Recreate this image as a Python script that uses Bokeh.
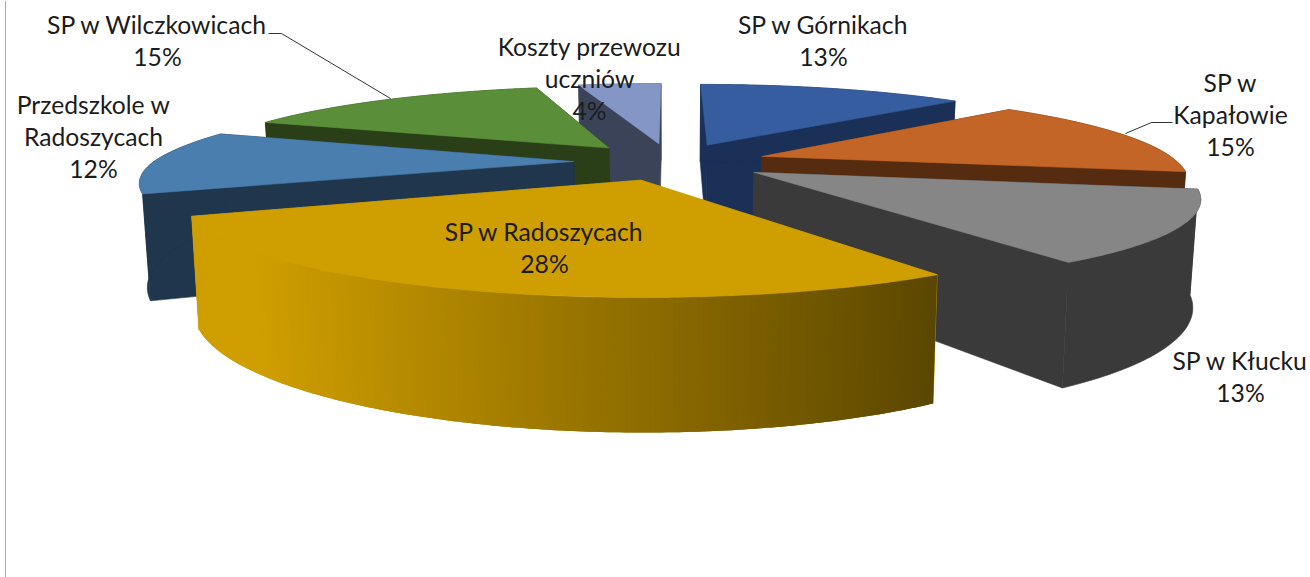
import math
from bokeh.plotting import figure
from bokeh.models import Range1d
from bokeh.core.properties import value
from bokeh.embed import file_html
from bokeh.resources import INLINE

# ---- data ----
categories = ["SP w Górnikach", "SP w Kapałowie", "SP w Kłucku", "SP w Radoszycach",
              "Przedszkole w Radoszycach", "SP w Wilczkowicach", "Koszty przewozu uczniów"]
shares = [13, 15, 13, 28, 12, 15, 4]
label_lines = [["SP w Górnikach"], ["SP w", "Kapałowie"], ["SP w Kłucku"], ["SP w Radoszycach"],
               ["Przedszkole w", "Radoszycach"], ["SP w Wilczkowicach"], ["Koszty przewozu", "uczniów"]]

# ---- styles / layout ----
top_colors = ["#355D9F", "#C36527", "#868686", "#CF9E00", "#4A7EAE", "#5B8E39", "#8496C6"]
side_colors = ["#1B3056", "#562C11", "#3A3A3A", "#CF9E00", "#20364C", "#2A3F18", "#3A4358"]
label_pos = [(823, 24), (1230, 82), (1240, 360), (544, 231), (93, 104), (157, 24), (589, 46)]
paint_order = [6, 0, 5, 4, 1, 2, 3]

W, H = 1310, 577
CX, CY = 670, 161          # centre of the pie top on the page
AX, BY = 420, 81           # horizontal / vertical projection scale
PERSP, SKEW = 0.225, 8     # perspective strength, near-side skew
YAW = 0.009                # slight narrowing of the right-hand side
EXPLODE = 0.23             # explosion of every slice
DEPTH, SHRINK = 98, 0.015  # pie thickness on the page
FS = "24.7px"
FONT = value("Lato")
TEXT = "#1c1c1c"


def project(u, v, bottom=False):
    w = 1 - PERSP * v
    x = (AX * u * (1 - YAW * max(u, 0)) + SKEW * max(v, 0)) / w
    y = BY * v / w
    if bottom:
        x *= 1 - SHRINK
        y += DEPTH / w
    return CX + x, CY + y


p = figure(width=W, height=H, x_range=Range1d(0, W), y_range=Range1d(H, 0),
           output_backend="svg", toolbar_location=None, min_border=0)
p.axis.visible = False
p.grid.visible = False
p.outline_line_color = None
p.background_fill_color = "white"
p.border_fill_color = "white"

# chart-area border on the left
p.line([5, 5], [0, H], line_color="#ababab", line_width=1)

total = sum(shares)
starts, acc = [], 0
for s in shares:
    starts.append(acc / total * 2 * math.pi)
    acc += s


def slice_geometry(i):
    a0 = starts[i]
    a1 = a0 + shares[i] / total * 2 * math.pi
    mid = (a0 + a1) / 2
    ou, ov = EXPLODE * math.sin(mid), -EXPLODE * math.cos(mid)
    n = max(8, int(shares[i] * 6))
    arc = [(ou + math.sin(a0 + (a1 - a0) * k / n), ov - math.cos(a0 + (a1 - a0) * k / n))
           for k in range(n + 1)]
    return (ou, ov), arc


for i in paint_order:
    apex, arc = slice_geometry(i)
    t_apex, b_apex = project(*apex), project(*apex, bottom=True)
    t_arc = [project(*q) for q in arc]
    b_arc = [project(*q, bottom=True) for q in arc]
    sc = side_colors[i]
    # radial walls
    for t_q, b_q in ((t_arc[0], b_arc[0]), (t_arc[-1], b_arc[-1])):
        xs = [t_apex[0], t_q[0], b_q[0], b_apex[0]]
        ys = [t_apex[1], t_q[1], b_q[1], b_apex[1]]
        p.patch(xs, ys, fill_color=sc, line_color=sc, line_width=0.6)
    # outer wall
    if i == 3:
        # horizontal gold gradient of the largest slice: overlapping strips
        xs_list, ys_list, cols = [], [], []
        m = len(arc) - 1
        for k in range(m):
            e = min(k + 2, m)
            xs = [t_arc[k][0]] + [t_arc[j][0] for j in range(k + 1, e + 1)] + \
                 [b_arc[j][0] for j in range(e, k - 1, -1)]
            ys = [t_arc[k][1]] + [t_arc[j][1] for j in range(k + 1, e + 1)] + \
                 [b_arc[j][1] for j in range(e, k - 1, -1)]
            xs_list.append(xs)
            ys_list.append(ys)
            t = min(1, max(0, ((t_arc[k][0] + t_arc[k + 1][0]) / 2 - 255) / (933 - 255)))
            cols.append("#%02x%02x%02x" % (round(207 - t * 115), round(158 - t * 87), 0))
        p.patches(xs_list, ys_list, fill_color=cols, line_color=None)
    else:
        xs = [q[0] for q in t_arc] + [q[0] for q in reversed(b_arc)]
        ys = [q[1] for q in t_arc] + [q[1] for q in reversed(b_arc)]
        p.patch(xs, ys, fill_color=sc, line_color=sc, line_width=0.6)
    # top face
    xs = [t_apex[0]] + [q[0] for q in t_arc]
    ys = [t_apex[1]] + [q[1] for q in t_arc]
    p.patch(xs, ys, fill_color=top_colors[i], line_color=top_colors[i], line_width=0.5)

# leader lines
p.line([268, 281, 390], [33, 33, 98], line_color="#333333", line_width=1)
p.line([1172, 1151, 1125], [122, 122, 133], line_color="#333333", line_width=1)

# labels
LINE = 32
for i, lines in enumerate(label_lines):
    x0, y0 = label_pos[i]
    rows = lines + [f"{shares[i]}%"]
    p.text([x0] * len(rows), [y0 + LINE * r for r in range(len(rows))], text=rows,
           text_align="center", text_baseline="middle", text_font=FONT,
           text_font_size=FS, text_color=TEXT)

open("out.html", "w").write(file_html(p, INLINE))
